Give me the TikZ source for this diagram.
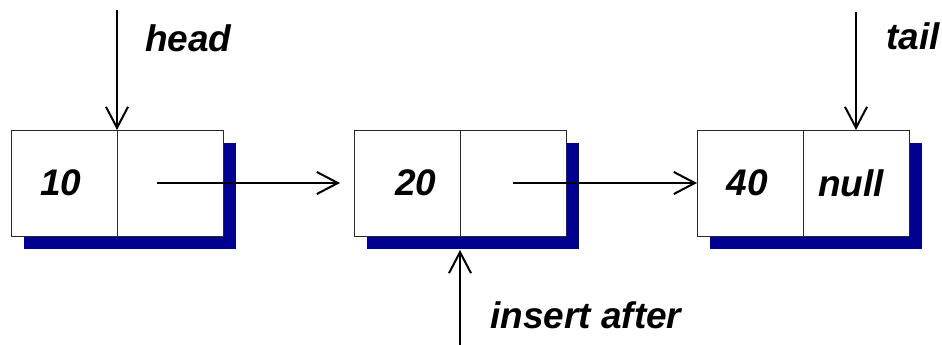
\documentclass[tikz,border=0pt]{standalone}
\usepackage{fontspec}
\setmainfont{Liberation Sans}
\usetikzlibrary{arrows.meta,backgrounds}
\definecolor{shadowc}{RGB}{0,0,145}
\definecolor{edgec}{RGB}{40,40,40}
\tikzset{
  cell/.style={draw=edgec, line width=1pt, fill=white, minimum width=106pt, minimum height=106pt, inner sep=0pt, outer sep=0pt},
  val/.style={inner sep=0pt, font=\fontsize{37}{40}\selectfont\bfseries\itshape},
  lbl/.style={inner sep=0pt, anchor=base west, font=\fontsize{37}{40}\selectfont\bfseries\itshape},
  ptr/.style={line width=2pt, -{Straight Barb[length=21pt,width=22pt,line width=2pt]}},
  shade/.style={fill=shadowc}
}
\begin{document}
\begin{tikzpicture}[x=1pt,y=-1pt]
\useasboundingbox (0,0) rectangle (942,345);
% cells
\node[cell] (a1) at (64,183) {};
\node[cell] (a2) at (170,183) {};
\node[cell] (b1) at (407,183) {};
\node[cell] (b2) at (513,183) {};
\node[cell] (c1) at (750,183) {};
\node[cell] (c2) at (856,183) {};
% shadows
\begin{scope}[on background layer]
\fill[shade] ([shift={(13pt,-13pt)}]a1.north west) rectangle ([shift={(13pt,-13pt)}]a2.south east);
\fill[shade] ([shift={(13pt,-13pt)}]b1.north west) rectangle ([shift={(13pt,-13pt)}]b2.south east);
\fill[shade] ([shift={(13pt,-13pt)}]c1.north west) rectangle ([shift={(13pt,-13pt)}]c2.south east);
\end{scope}
% values
\node[val] (v1) at ([xshift=-3pt]a1.center) {10};
\node[val] (v2) at ([xshift=9pt]b1.center) {20};
\node[val] (v3) at ([xshift=-3pt]c1.center) {40};
\node[val] (v4) at ([xshift=-5pt]c2.center) {null};
% labels
\node[lbl] (lh) at (145,52) {head};
\node[lbl] (lt) at (886,50) {tail};
\node[lbl] (li) at (490,328) {insert after};
% free ends
\coordinate (hs) at (117,10);
\coordinate (ts) at (856,12);
\coordinate (is) at (460,345);
% connectors
\draw[ptr] (hs) -- (a1.north east);
\draw[ptr] (ts) -- (c2.north);
\draw[ptr] (is) -- ([yshift=-14pt]b1.south east);
\draw[ptr] ([xshift=-13pt]a2.center) -- ([xshift=-14pt]b1.west);
\draw[ptr] (b2.center) -- (c1.west);
\end{tikzpicture}
\end{document}
